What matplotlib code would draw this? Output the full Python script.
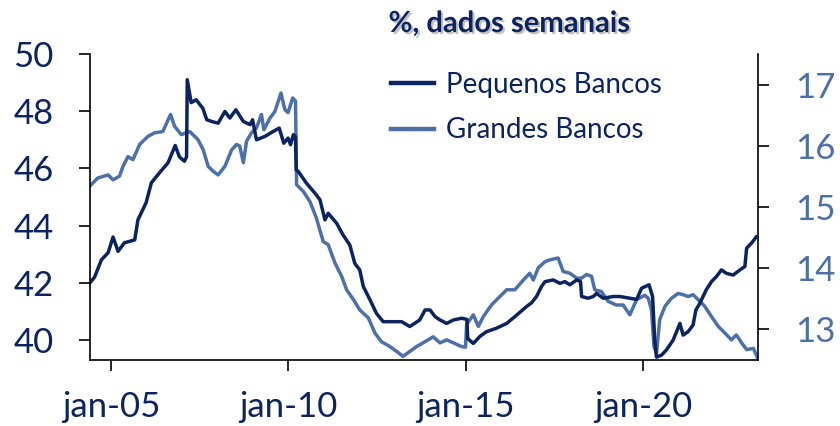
import numpy as np
import matplotlib
matplotlib.use('Agg')
import matplotlib.pyplot as plt
import matplotlib.patheffects as pe

plt.rcParams['font.family'] = ['Lato', 'DejaVu Sans']

NAVY = '#0b2461'
STEEL = '#4d70a8'

# Pequenos Bancos (left axis), decimal years
years_small = [2004.41, 2004.54, 2004.73, 2004.92, 2005.06, 2005.20, 2005.38, 2005.67,
               2005.76, 2005.99, 2006.14, 2006.37, 2006.61, 2006.81, 2006.93, 2007.07,
               2007.13, 2007.15, 2007.26, 2007.40, 2007.59, 2007.70, 2007.84, 2008.02,
               2008.21, 2008.35, 2008.52, 2008.73, 2008.92, 2008.99, 2009.10, 2009.34,
               2009.57, 2009.74, 2009.87, 2009.99, 2010.06, 2010.14, 2010.20, 2010.22,
               2010.28, 2010.51, 2010.75, 2010.89, 2011.03, 2011.12, 2011.36, 2011.54,
               2011.73, 2011.87, 2012.01, 2012.11, 2012.30, 2012.48, 2012.67, 2012.95,
               2013.19, 2013.42, 2013.70, 2013.85, 2013.99, 2014.13, 2014.27, 2014.46,
               2014.65, 2014.88, 2015.03, 2015.05, 2015.21, 2015.39, 2015.58, 2015.86,
               2016.15, 2016.43, 2016.71, 2016.85, 2016.99, 2017.13, 2017.23, 2017.46,
               2017.65, 2017.79, 2017.93, 2018.12, 2018.23, 2018.26, 2018.44, 2018.59,
               2018.68, 2018.87, 2019.15, 2019.34, 2019.62, 2019.81, 2019.95, 2020.16,
               2020.26, 2020.32, 2020.37, 2020.51, 2020.65, 2020.84, 2021.03, 2021.12,
               2021.26, 2021.40, 2021.48, 2021.59, 2021.77, 2021.92, 2022.06, 2022.20,
               2022.34, 2022.53, 2022.72, 2022.86, 2022.91, 2023.05, 2023.19, 2023.22]
small_banks = [42.0, 42.2, 42.8, 43.05, 43.6, 43.1, 43.4, 43.5,
               44.2, 44.8, 45.5, 45.85, 46.2, 46.8, 46.4, 46.25,
               46.4, 49.1, 48.3, 48.4, 48.1, 47.7, 47.64, 47.58,
               47.99, 47.76, 48.05, 47.64, 47.53, 47.7, 47.0, 47.12,
               47.29, 47.41, 46.88, 47.06, 46.83, 47.18, 47.1, 45.95,
               45.89, 45.48, 45.13, 44.9, 44.2, 44.43, 44.08, 43.67,
               43.32, 42.68, 42.45, 41.87, 41.4, 40.93, 40.64, 40.64,
               40.64, 40.47, 40.7, 41.05, 41.05, 40.82, 40.7, 40.58,
               40.7, 40.76, 40.72, 40.05, 39.88, 40.12, 40.29, 40.41,
               40.58, 40.87, 41.17, 41.3, 41.52, 41.87, 42.04, 42.1,
               41.98, 42.04, 41.93, 42.1, 42.04, 41.52, 41.46, 41.52,
               41.63, 41.46, 41.52, 41.52, 41.46, 41.42, 41.81, 41.93,
               41.52, 40.0, 39.4, 39.47, 39.65, 40.0, 40.58, 40.17,
               40.29, 40.52, 41.05, 41.28, 41.75, 42.04, 42.22, 42.45,
               42.33, 42.27, 42.45, 42.57, 43.21, 43.39, 43.62, 43.6]

# Grandes Bancos (right axis), decimal years
years_large = [2004.41, 2004.63, 2004.92, 2005.06, 2005.24, 2005.34, 2005.48, 2005.62,
               2005.81, 2006.04, 2006.23, 2006.46, 2006.68, 2006.79, 2006.98, 2007.22,
               2007.45, 2007.60, 2007.74, 2007.88, 2008.02, 2008.21, 2008.40, 2008.54,
               2008.63, 2008.73, 2008.82, 2008.96, 2009.10, 2009.24, 2009.31, 2009.48,
               2009.62, 2009.79, 2009.90, 2009.99, 2010.12, 2010.20, 2010.23, 2010.42,
               2010.61, 2010.79, 2010.98, 2011.12, 2011.31, 2011.50, 2011.64, 2011.83,
               2012.01, 2012.25, 2012.44, 2012.62, 2012.86, 2013.05, 2013.23, 2013.42,
               2013.61, 2013.85, 2014.08, 2014.27, 2014.46, 2014.65, 2014.88, 2014.99,
               2015.02, 2015.21, 2015.35, 2015.49, 2015.72, 2015.96, 2016.15, 2016.38,
               2016.62, 2016.80, 2016.90, 2017.04, 2017.23, 2017.37, 2017.60, 2017.74,
               2017.93, 2018.12, 2018.26, 2018.40, 2018.54, 2018.63, 2018.82, 2019.01,
               2019.24, 2019.43, 2019.62, 2019.81, 2020.04, 2020.14, 2020.23, 2020.30,
               2020.37, 2020.46, 2020.61, 2020.79, 2020.98, 2021.12, 2021.26, 2021.40,
               2021.54, 2021.73, 2021.92, 2022.11, 2022.30, 2022.48, 2022.62, 2022.77,
               2022.91, 2023.10, 2023.22]
large_banks = [15.34, 15.47, 15.52, 15.44, 15.50, 15.66, 15.82, 15.77,
               16.02, 16.15, 16.21, 16.23, 16.51, 16.32, 16.18, 16.23,
               16.10, 15.93, 15.66, 15.58, 15.52, 15.66, 15.93, 16.02,
               15.99, 15.72, 16.07, 16.21, 16.29, 16.51, 16.26, 16.45,
               16.56, 16.86, 16.59, 16.54, 16.78, 16.73, 15.36, 15.25,
               15.08, 14.81, 14.43, 14.38, 14.08, 13.86, 13.64, 13.48,
               13.31, 13.18, 12.93, 12.79, 12.71, 12.63, 12.55, 12.63,
               12.71, 12.79, 12.87, 12.77, 12.82, 12.77, 12.71, 12.70,
               13.07, 13.23, 13.04, 13.20, 13.39, 13.53, 13.64, 13.64,
               13.80, 13.91, 13.80, 14.0, 14.10, 14.13, 14.16, 13.94,
               13.91, 13.83, 13.83, 13.89, 13.86, 13.64, 13.61, 13.45,
               13.39, 13.39, 13.23, 13.48, 13.55, 13.50, 13.31, 12.71,
               12.60, 13.15, 13.37, 13.50, 13.58, 13.56, 13.53, 13.56,
               13.48, 13.37, 13.20, 13.04, 12.93, 12.82, 12.90, 12.77,
               12.66, 12.68, 12.52]

xtick_pos = [2005, 2010, 2015, 2020]
xtick_labels = ['jan-05', 'jan-10', 'jan-15', 'jan-20']

fig = plt.figure(figsize=(8.4, 4.26), dpi=100)
ax = fig.add_axes([90 / 840, 1 - 360 / 426, (758 - 90) / 840, (360 - 54) / 426])
ax2 = ax.twinx()

l1, = ax.plot(years_small, small_banks, color=NAVY, lw=2.5, label='Pequenos Bancos')
l2, = ax2.plot(years_large, large_banks, color=STEEL, lw=2.5, label='Grandes Bancos')
ax.set_zorder(ax2.get_zorder() + 1)
ax.patch.set_visible(False)

ax.set_xlim(2004.41, 2023.23)
ax.set_ylim(39.3, 50)
ax2.set_ylim(12.49, 17.5)
ax.set_yticks([40, 42, 44, 46, 48, 50])
ax2.set_yticks([13, 14, 15, 16, 17])
ax.set_xticks(xtick_pos)
ax.set_xticklabels(xtick_labels)

for a in (ax, ax2):
    a.spines['top'].set_visible(False)
    for s in a.spines.values():
        s.set_linewidth(1.2)
        s.set_color('black')
ax.spines['right'].set_visible(False)
ax2.spines['left'].set_visible(False)
ax2.spines['bottom'].set_visible(False)

ax.tick_params(axis='y', length=8, width=1.2, pad=18, labelsize=25, labelcolor=NAVY)
ax.tick_params(axis='x', length=8, width=1.2, pad=14, labelsize=25, labelcolor=NAVY)
ax2.yaxis.set_tick_params(which='major', length=8, width=1.2, pad=19, labelsize=25,
                          labelcolor=STEEL)

fig.text(0.606, 1 - 32 / 426, '%, dados semanais', ha='center', va='baseline', fontsize=21,
         fontweight='bold', color=NAVY,
         path_effects=[pe.withSimplePatchShadow(offset=(1.5, -1.5), shadow_rgbFace='#999999', alpha=0.6)])

leg = fig.legend(handles=[l1, l2], loc='upper left', bbox_to_anchor=(391 / 840, 1 - 72 / 426),
                 frameon=False, fontsize=20, handlelength=1.55, handletextpad=0.42,
                 labelspacing=0.7, borderpad=0, borderaxespad=0)
for t in leg.get_texts():
    t.set_color(NAVY)
for h in leg.legend_handles:
    h.set_linewidth(3.2)

fig.savefig('out.png', dpi=100)
